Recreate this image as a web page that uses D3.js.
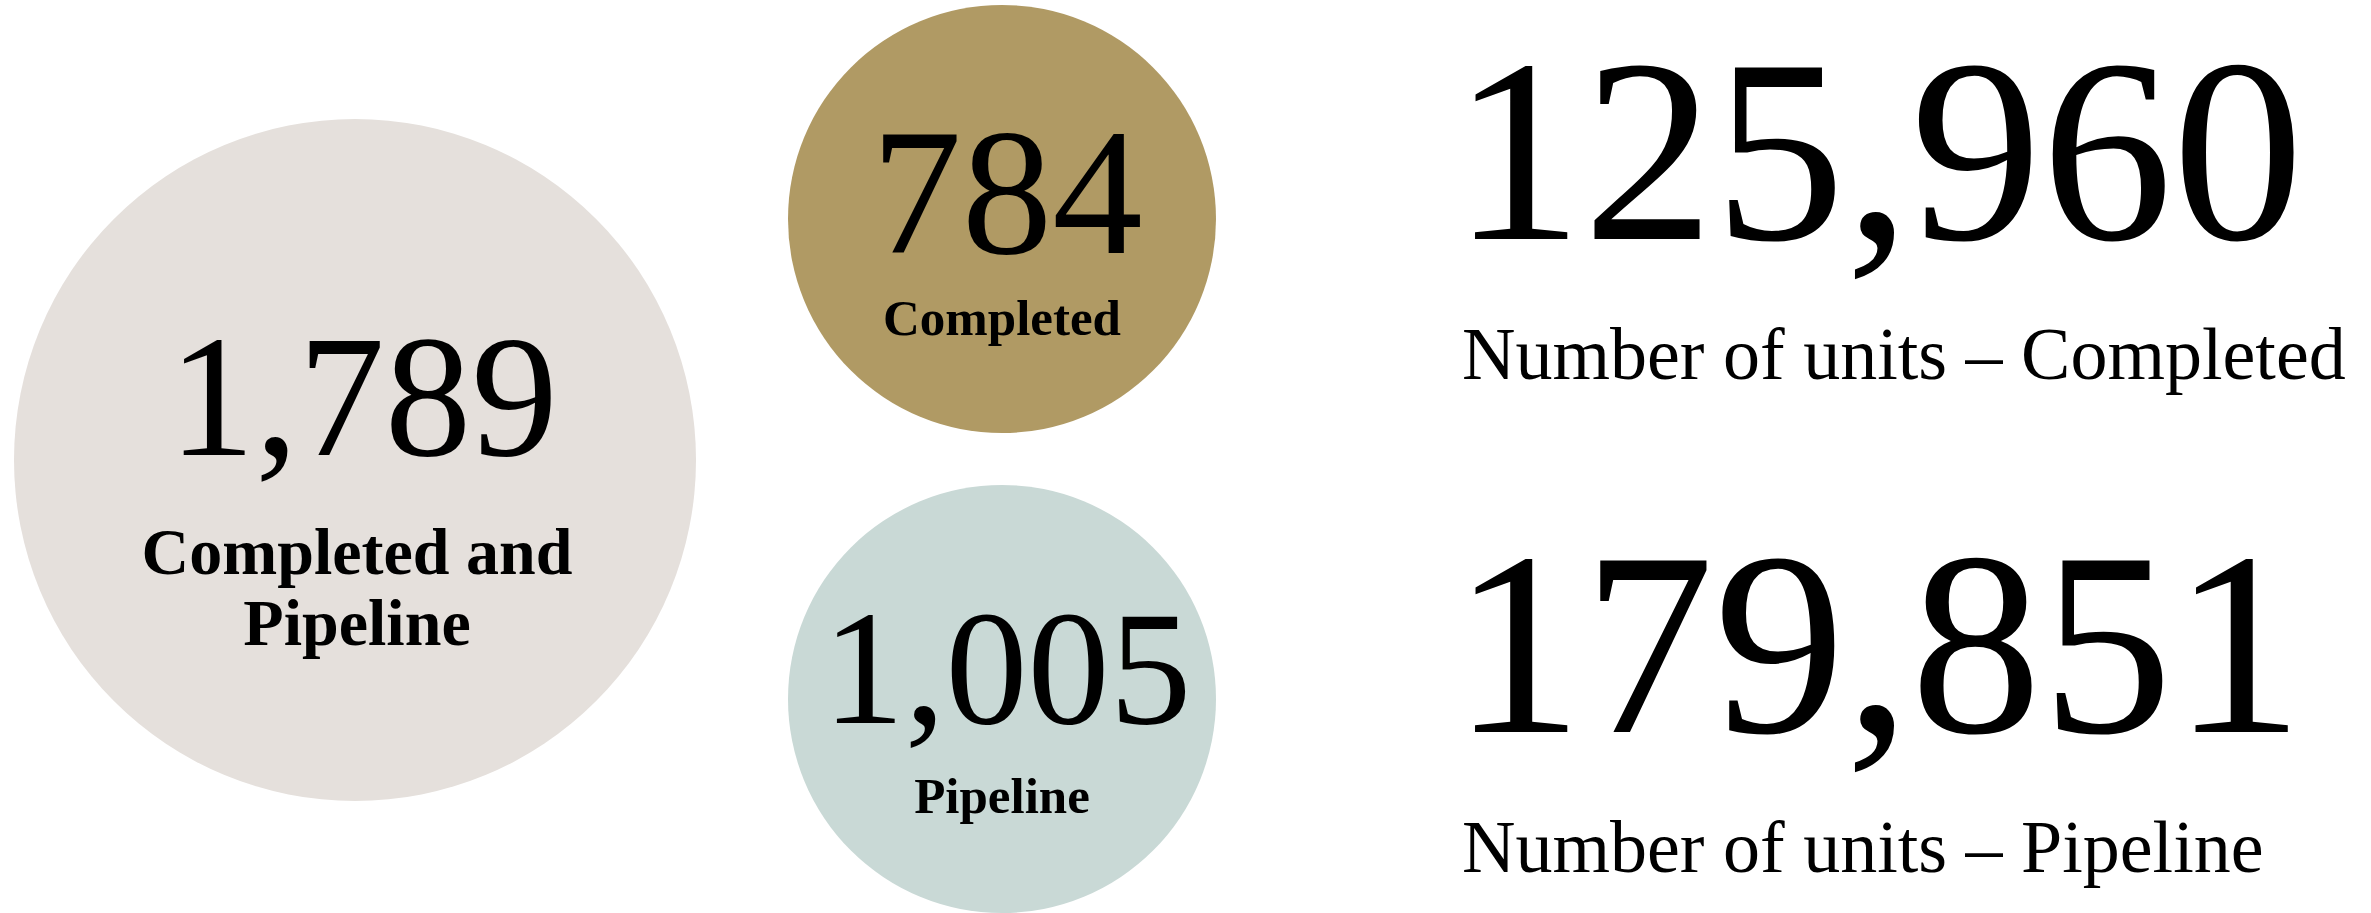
<!DOCTYPE html>
<html>
<head>
<meta charset="utf-8">
<script src="https://cdnjs.cloudflare.com/ajax/libs/d3/7.8.5/d3.min.js"></script>
<style>
    body { margin: 0; background: #fff; }
    text { font-family: "Liberation Serif", "Times New Roman", serif; fill: #000; }
</style>
</head>
<body>
<div id="content"></div>
<script>
// project counts shown in the circles
var circleNames = ["total", "completed", "pipeline"];
var circleValues = [1789, 784, 1005];
var circleLabels = [["Completed and", "Pipeline"], ["Completed"], ["Pipeline"]];
var circleColors = ["#e5e0dc", "#b09a64", "#c9d9d6"];

// unit counts on the right
var unitValues = [125960, 179851];
var unitLabels = ["Number of units \u2013 Completed", "Number of units \u2013 Pipeline"];

var width = 2371,
    height = 913;

var fmt = d3.format(",");

var svg = d3.select("div#content").append("svg")
    .attr("width", width)
    .attr("height", height);

// layout of the three circles
var cx = d3.scaleOrdinal().domain(circleNames).range([355, 1002, 1002]);
var cy = d3.scaleOrdinal().domain(circleNames).range([460, 219, 699]);
var r = d3.scaleOrdinal().domain(circleNames).range([341, 214, 214]);
var numSize = d3.scaleOrdinal().domain(circleNames).range([173, 181, 164]);
var numDx = d3.scaleOrdinal().domain(circleNames).range([8, 5, 5]);
var numDy = d3.scaleOrdinal().domain(circleNames).range([-5, 34, 24]);
var labSize = d3.scaleOrdinal().domain(circleNames).range([66, 51, 51]);
var labDx = d3.scaleOrdinal().domain(circleNames).range([2, 0, 0]);
var labDy = d3.scaleOrdinal().domain(circleNames).range([114, 116, 114]);

var circles = circleNames.map(function(n, i) {
    return { name: n, value: circleValues[i], label: circleLabels[i], color: circleColors[i] };
});

var g = svg.selectAll(".bubble")
    .data(circles)
    .enter().append("g")
    .attr("class", "bubble")
    .attr("transform", function(d) {
        return "translate(" + cx(d.name) + "," + cy(d.name) + ")";
    });

g.append("circle")
    .attr("r", function(d) { return r(d.name); })
    .attr("fill", function(d) { return d.color; });

g.append("text")
    .attr("text-anchor", "middle")
    .attr("x", function(d) { return numDx(d.name); })
    .attr("y", function(d) { return numDy(d.name); })
    .style("font-size", function(d) { return numSize(d.name) + "px"; })
    .text(function(d) { return fmt(d.value); });

g.each(function(d) {
    d3.select(this).selectAll(".lab")
        .data(d.label)
        .enter().append("text")
        .attr("class", "lab")
        .attr("text-anchor", "middle")
        .attr("x", labDx(d.name))
        .attr("y", function(t, j) { return labDy(d.name) + j * 71; })
        .style("font-size", labSize(d.name) + "px")
        .style("font-weight", "bold")
        .text(function(t) { return t; });
});

// big unit numbers on the right
var rowY = d3.scalePoint().domain(d3.range(unitValues.length)).range([239, 732]);
var left = 1462;

var rows = svg.selectAll(".units")
    .data(unitValues)
    .enter().append("g")
    .attr("class", "units")
    .attr("transform", function(d, i) { return "translate(" + left + "," + rowY(i) + ")"; });

rows.append("text")
    .attr("x", -10)
    .style("font-size", "262px")
    .text(function(d) { return fmt(d); });

rows.append("text")
    .attr("y", 140)
    .style("font-size", "74px")
    .text(function(d, i) { return unitLabels[i]; });
</script>
</body>
</html>
